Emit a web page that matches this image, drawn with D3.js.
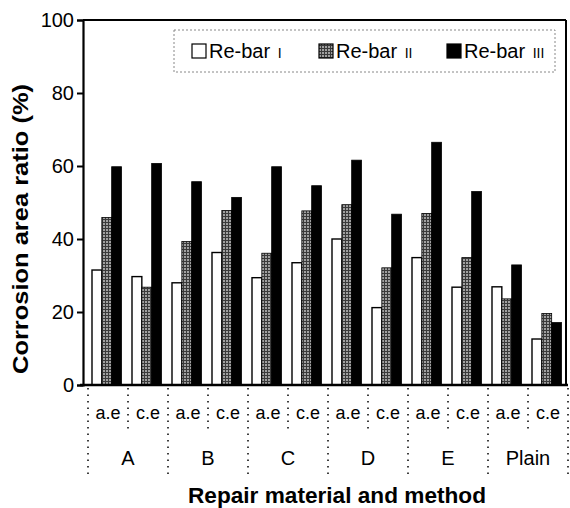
<!DOCTYPE html>
<html><head><meta charset="utf-8">
<script src="https://cdn.jsdelivr.net/npm/d3@7"></script>
<style>body{margin:0;background:#fff}svg{display:block}text{font-family:"Liberation Sans",Arial,sans-serif;fill:#000}</style>
</head><body><svg id="c" width="570" height="508"></svg>
<script>
const groups = ["A","B","C","D","E","Plain"];
const methods = ["a.e","c.e"];
const seriesNames = ["Re-bar ","Re-bar ","Re-bar "];
const seriesNumerals = ["I","II","III"];
const rebar1 = [31.5, 29.7, 28.0, 36.3, 29.4, 33.5, 40.0, 21.2, 34.9, 26.8, 26.9, 12.6];
const rebar2 = [45.9, 26.8, 39.3, 47.8, 36.1, 47.7, 49.4, 32.1, 47.0, 34.9, 23.6, 19.6];
const rebar3 = [59.8, 60.7, 55.7, 51.4, 59.8, 54.6, 61.6, 46.8, 66.5, 53.0, 32.9, 17.1];
const yTicks = [0,20,40,60,80,100];

(function(){
const svg = d3.select("#c");
const defs = svg.append("defs");
const pat = defs.append("pattern").attr("id","grid").attr("patternUnits","userSpaceOnUse").attr("width",3).attr("height",3);
pat.append("rect").attr("width",3).attr("height",3).attr("fill","#a0a0a0");
pat.append("rect").attr("x",0).attr("y",0).attr("width",3).attr("height",1).attr("fill","#3a3a3a");
pat.append("rect").attr("x",0).attr("y",0).attr("width",1).attr("height",3).attr("fill","#3a3a3a");

const fills = ["#fff","url(#grid)","#000"];

const cats = [];
groups.forEach(g => methods.forEach(m => cats.push(g + "|" + m)));
const rows = cats.map((c,i) => ({c, v:[rebar1[i], rebar2[i], rebar3[i]]}));

const mL = 83, mR = 566, mT = 20, mB = 385;
const x = d3.scaleBand().domain(cats).range([88, 568]).padding(0);
const xs = d3.scaleBand().domain([0,1,2]).range([4, 33.5]).padding(0);
const y = d3.scaleLinear().domain([0,100]).range([mB, mT]);

// bars
const g = svg.append("g");
rows.forEach(r => {
  r.v.forEach((v,k) => {
    g.append("rect")
      .attr("x", x(r.c) + xs(k))
      .attr("y", y(v))
      .attr("width", xs.bandwidth())
      .attr("height", y(0) - y(v))
      .attr("fill", fills[k])
      .attr("stroke", "#000")
      .attr("stroke-width", k===0 ? 1.4 : 0.8);
  });
});

// frame
svg.append("line").attr("x1",mL).attr("x2",mR).attr("y1",mT).attr("y2",mT).attr("stroke","#000").attr("stroke-width",2);
svg.append("line").attr("x1",mR).attr("x2",mR).attr("y1",mT).attr("y2",mB).attr("stroke","#000").attr("stroke-width",2);

// y axis
const ya = svg.append("g").attr("transform",`translate(${mL},0)`)
  .call(d3.axisLeft(y).tickValues(yTicks).tickSize(6).tickPadding(3).tickFormat(d3.format("d")));
ya.select(".domain").attr("stroke-width",2.2);
ya.selectAll(".tick line").attr("stroke-width",2);
ya.selectAll("text").attr("font-size",20).attr("font-family","Liberation Sans, Arial, sans-serif");

// x axis line
svg.append("line").attr("x1",mL-3).attr("x2",568).attr("y1",mB).attr("y2",mB).attr("stroke","#000").attr("stroke-width",2.5);

// separators
const bounds = d3.range(cats.length + 1);
bounds.forEach(k => {
  const xx = 88 + k * x.bandwidth();
  svg.append("line").attr("x1",xx).attr("x2",xx).attr("y1",mB+3).attr("y2", k%2===0 ? 478 : 430)
    .attr("stroke","#000").attr("stroke-width",1.5).attr("stroke-dasharray","1.5,5");
});

// method labels
rows.forEach(r => {
  svg.append("text").attr("x", x(r.c) + x.bandwidth()/2).attr("y", 419)
    .attr("text-anchor","middle").attr("font-size",18).text(r.c.split("|")[1]);
});
// group labels
groups.forEach(gname => {
  const cx = x(gname + "|a.e") + x.bandwidth();
  svg.append("text").attr("x", cx).attr("y", 465).attr("text-anchor","middle").attr("font-size",20).text(gname);
});

// axis titles
svg.append("text").attr("x", 337).attr("y", 503).attr("text-anchor","middle").attr("font-size",22).attr("font-weight","bold")
  .attr("textLength",298).attr("lengthAdjust","spacingAndGlyphs")
  .text("Repair material and method");
svg.append("text").attr("transform","translate(28,229) rotate(-90)").attr("text-anchor","middle").attr("font-size",22).attr("font-weight","bold")
  .attr("textLength",290).attr("lengthAdjust","spacingAndGlyphs")
  .text("Corrosion area ratio (%)");

// legend
svg.append("rect").attr("x",174).attr("y",30).attr("width",381).attr("height",42).attr("fill","#fff")
  .attr("stroke","#888").attr("stroke-width",1).attr("stroke-dasharray","2,2");
const legX = [192, 319, 447];
legX.forEach((lx,k) => {
  svg.append("rect").attr("x",lx).attr("y",44).attr("width",14).attr("height",14)
    .attr("fill",fills[k]).attr("stroke","#000").attr("stroke-width",1.2);
  const t = svg.append("text").attr("x",lx+17).attr("y",58).attr("font-size",20);
  t.append("tspan").text(seriesNames[k]);
  t.append("tspan").attr("font-size",14).attr("dx",2).text(seriesNumerals[k]);
});
})();
</script></body></html>
